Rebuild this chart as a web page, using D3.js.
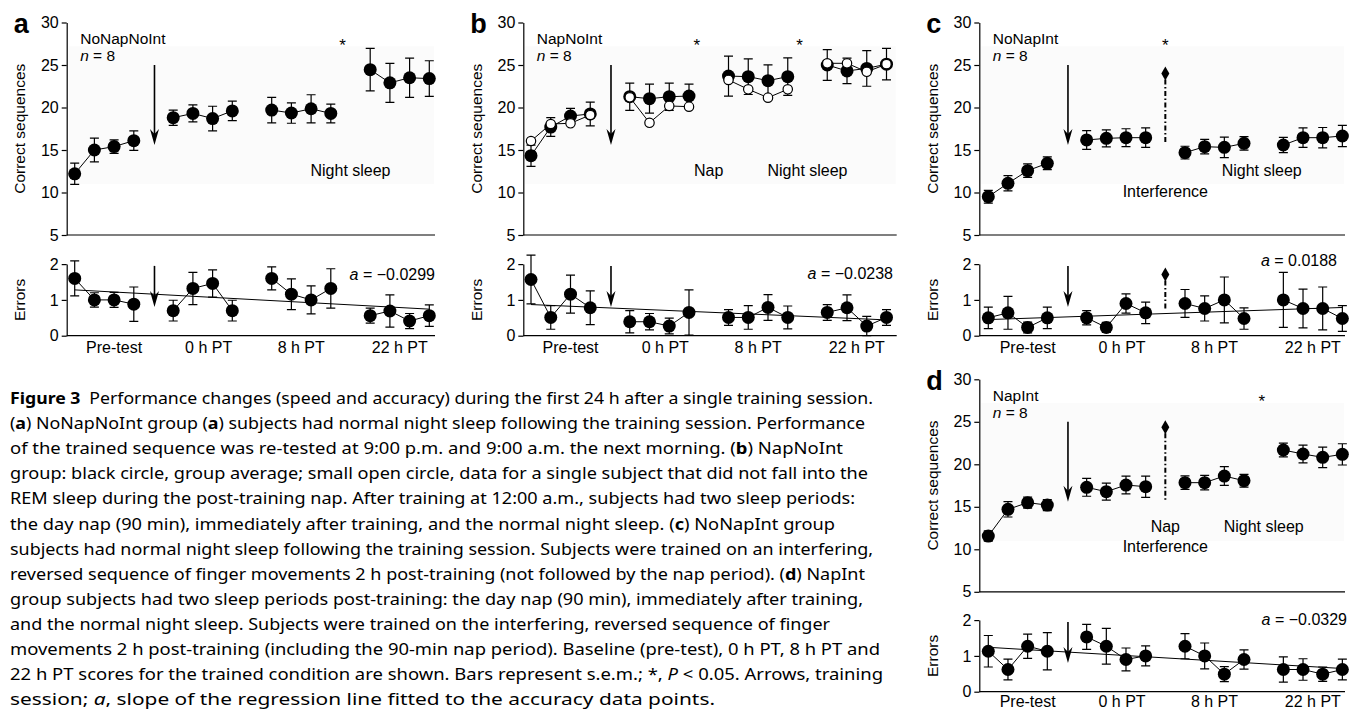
<!DOCTYPE html>
<html>
<head>
<meta charset="utf-8">
<script src="https://cdn.jsdelivr.net/npm/d3@7"></script>
<style>
  body { margin: 0; background: #fff; }
  svg { display: block; }
  text { font-family: "Liberation Sans", Arial, sans-serif; fill: #000; }
</style>
</head>
<body>
<script>
// positions of the 16 test blocks (gaps at 4, 9, 14)
const slots = [0, 1, 2, 3, 5, 6, 7, 8, 10, 11, 12, 13, 15, 16, 17, 18];
const sessions = ["Pre-test", "0 h PT", "8 h PT", "22 h PT"];
const seqTicks = [5, 10, 15, 20, 25, 30];
const errTicks = [0, 1, 2];

// a: NoNapNoInt
const seqA = [12.2, 15.0, 15.4, 16.1, 18.8, 19.3, 18.7, 19.6, 19.7, 19.35, 19.85, 19.3, 24.45, 22.9, 23.5, 23.4];
const seqSemA = [1.25, 1.4, 0.8, 1.15, 0.9, 1.0, 1.45, 1.15, 1.5, 1.2, 1.65, 1.1, 2.5, 2.3, 2.3, 2.1];
const errA = [1.6, 1.0, 1.0, 0.88, 0.7, 1.32, 1.46, 0.7, 1.6, 1.16, 1.0, 1.32, 0.56, 0.69, 0.41, 0.56];
const errSemA = [0.49, 0.2, 0.21, 0.48, 0.29, 0.45, 0.38, 0.29, 0.32, 0.43, 0.39, 0.55, 0.21, 0.45, 0.21, 0.3];
const fitA = [1.28, -0.0299];

// b: NapNoInt (filled = group, open = single subject)
const seqB = [14.33, 17.7, 19.0, 19.24, 21.27, 21.04, 21.27, 21.35, 23.7, 23.63, 23.16, 23.63, 25.0, 24.3, 24.6, 25.1];
const seqSemB = [1.25, 1.1, 0.9, 1.4, 1.6, 1.7, 1.6, 1.4, 2.35, 2.1, 1.85, 2.2, 1.8, 1.5, 2.1, 1.85];
const seqOpenB = [16.06, 18.06, 18.14, 19.12, 21.2, 18.2, 20.18, 20.1, 23.24, 22.14, 21.16, 22.14, 25.2, 25.2, 24.2, 25.1];
const errB = [1.57, 0.51, 1.16, 0.78, 0.39, 0.39, 0.27, 0.65, 0.51, 0.51, 0.79, 0.51, 0.65, 0.78, 0.27, 0.51];
const errSemB = [0.68, 0.33, 0.53, 0.47, 0.31, 0.23, 0.22, 0.63, 0.22, 0.33, 0.36, 0.32, 0.22, 0.36, 0.27, 0.22];
const fitB = [0.87, -0.0238];

// c: NoNapInt
const seqC = [9.51, 11.08, 12.57, 13.43, 16.18, 16.37, 16.45, 16.45, 14.69, 15.39, 15.31, 15.78, 15.59, 16.45, 16.45, 16.65];
const seqSemC = [0.75, 0.9, 0.8, 0.75, 1.1, 1.0, 1.05, 1.15, 0.75, 0.85, 1.2, 0.8, 0.9, 1.15, 1.2, 1.25];
const errC = [0.5, 0.64, 0.23, 0.5, 0.5, 0.23, 0.9, 0.64, 0.9, 0.76, 1.0, 0.48, 1.0, 0.76, 0.76, 0.48];
const errSemC = [0.3, 0.46, 0.15, 0.3, 0.2, 0.14, 0.27, 0.3, 0.39, 0.35, 0.64, 0.3, 0.77, 0.54, 0.6, 0.36];
const fitC = [0.45, 0.0188];
const intC = [24.0, 1.71];

// d: NapInt
const seqD = [11.56, 14.7, 15.49, 15.2, 17.29, 16.78, 17.56, 17.37, 17.84, 17.84, 18.62, 18.07, 21.68, 21.21, 20.82, 21.17];
const seqSemD = [0.6, 0.9, 0.65, 0.65, 1.05, 1.0, 1.05, 1.25, 0.8, 0.85, 1.1, 0.75, 0.8, 1.05, 1.2, 1.25];
const errD = [1.13, 0.62, 1.27, 1.13, 1.53, 1.27, 0.9, 1.0, 1.27, 1.0, 0.49, 0.9, 0.62, 0.62, 0.49, 0.62];
const errSemD = [0.44, 0.29, 0.34, 0.52, 0.35, 0.5, 0.32, 0.28, 0.35, 0.36, 0.21, 0.27, 0.35, 0.3, 0.2, 0.29];
const fitD = [1.24, -0.0329];
const intD = [24.35, null];

// training arrow (slot, top value, tip value) and interference marker slot
const arrowSeq = [4.05, 25, 15.6];
const arrowErr = [4.05, 1.95, 0.8];
const intSlot = 9;
const intEnd = [15.7, 0.76];

const notesA = [["Night sleep", 14, 12]];
const notesB = [["Nap", 9, 12], ["Night sleep", 14, 12]];
const notesC = [["Night sleep", 13.9, 12], ["Interference", 9, 9.5]];
const notesD = [["Nap", 9, 12], ["Interference", 9, 9.65], ["Night sleep", 14, 12]];
const starsA = [13.6], starsB = [8.4, 13.6], starsC = [9], starsD = [13.9];

const W = 1351, H = 709;
const svg = d3.select("body").append("svg").attr("width", W).attr("height", H);

const panels = [
  {letter: "a", group: "NoNapNoInt", seq: seqA, sem: seqSemA, err: errA, errSem: errSemA, fit: fitA, notes: notesA, stars: starsA,
   axisX: 66.7, x0: 74.7, dx: 19.7, xEnd: 435, top: 22.5, bot: 335.7, slopeDy: 15.5, slopeX: 435, labDy: 17.5},
  {letter: "b", group: "NapNoInt", seq: seqB, sem: seqSemB, open: seqOpenB, err: errB, errSem: errSemB, fit: fitB, notes: notesB, stars: starsB,
   axisX: 523.3, x0: 531, dx: 19.75, xEnd: 896.7, top: 22.5, bot: 335.7, slopeDy: 15, slopeX: 893, labDy: 17.5},
  {letter: "c", group: "NoNapInt", seq: seqC, sem: seqSemC, err: errC, errSem: errSemC, fit: fitC, notes: notesC, stars: starsC, inter: intC,
   axisX: 979.3, x0: 988.3, dx: 19.67, xEnd: 1345, top: 22.5, bot: 335.7, slopeDy: 2, slopeX: 1337, labDy: 17.5},
  {letter: "d", group: "NapInt", seq: seqD, sem: seqSemD, err: errD, errSem: errSemD, fit: fitD, notes: notesD, stars: starsD, inter: intD,
   axisX: 979.3, x0: 988.3, dx: 19.67, xEnd: 1345, top: 379.3, bot: 691.7, slopeDy: 5, slopeX: 1347, labDy: 15}
];

const blocks = d3.range(4).map(b => d3.range(4).map(k => b * 4 + k));

function arrow(g, xp, y1, y2) {
  g.append("line").attr("x1", xp).attr("x2", xp).attr("y1", y1).attr("y2", y2 - 8)
    .attr("stroke", "#000").attr("stroke-width", 1.6);
  g.append("path")
    .attr("d", `M${xp},${y2} L${xp - 4.5},${y2 - 16} L${xp},${y2 - 11} L${xp + 4.5},${y2 - 16} Z`)
    .attr("fill", "#000");
}

function interMark(g, xp, y1, y2) {
  g.append("line").attr("x1", xp).attr("x2", xp).attr("y1", y1 + 6).attr("y2", y2)
    .attr("stroke", "#000").attr("stroke-width", 2).attr("stroke-dasharray", "5,2.5,1.5,2.5");
  g.append("path").attr("d", `M${xp},${y1 - 7} L${xp + 4},${y1} L${xp},${y1 + 7} L${xp - 4},${y1} Z`).attr("fill", "#000");
}

function points(g, x, y, vals, sems, r) {
  blocks.forEach(b => {
    g.append("path")
      .attr("d", d3.line()(b.map(i => [x(slots[i]), y(vals[i])])))
      .attr("fill", "none").attr("stroke", "#000").attr("stroke-width", 1);
  });
  if (sems) {
    vals.forEach((v, i) => {
      const xp = x(slots[i]);
      const lo = y(v - sems[i]), hi = y(v + sems[i]);
      g.append("path")
        .attr("d", `M${xp},${lo}V${hi}M${xp - 4.5},${lo}H${xp + 4.5}M${xp - 4.5},${hi}H${xp + 4.5}`)
        .attr("fill", "none").attr("stroke", "#000").attr("stroke-width", 1.2);
    });
  }
  g.selectAll(null).data(vals).enter().append("circle")
    .attr("cx", (d, i) => x(slots[i])).attr("cy", d => y(d)).attr("r", r).attr("fill", "#000");
}

panels.forEach(p => {
  const g = svg.append("g");
  const x = d3.scaleLinear().domain([0, 18]).range([p.x0, p.x0 + 18 * p.dx]);
  const yS = d3.scaleLinear().domain([5, 30]).range([p.top + 212.5, p.top]);
  const yE = d3.scaleLinear().domain([0, 2]).range([p.bot, p.bot - 71.6]);

  // faint plot background
  g.append("rect").attr("x", p.axisX + 2).attr("y", yS(27.2)).attr("width", p.xEnd - p.axisX - 3)
    .attr("height", yS(11) - yS(27.2)).attr("fill", "#fbfbfb");

  // axes
  [[yS, seqTicks], [yE, errTicks]].forEach(([sc, tv]) => {
    const ax = g.append("g").attr("transform", `translate(${p.axisX},0)`)
      .call(d3.axisLeft(sc).tickValues(tv).tickFormat(d3.format("d")).tickSize(5).tickSizeOuter(0).tickPadding(3));
    ax.attr("font-family", null).attr("font-size", null);
    ax.selectAll("text").style("font-size", "16px");
    ax.selectAll("path,line").attr("stroke", "#000").attr("stroke-width", 1.2);
    g.append("line").attr("x1", p.axisX).attr("x2", p.xEnd).attr("y1", sc(tv[0])).attr("y2", sc(tv[0]))
      .attr("stroke", "#000").attr("stroke-width", 1.2);
  });

  g.append("text").attr("transform", `translate(${p.axisX - 47},${(yS(5) + yS(30)) / 2}) rotate(-90)`)
    .attr("text-anchor", "middle").attr("dominant-baseline", "central").style("font-size", "15.5px").text("Correct sequences");
  g.append("text").attr("transform", `translate(${p.axisX - 47},${(yE(0) + yE(2)) / 2}) rotate(-90)`)
    .attr("text-anchor", "middle").attr("dominant-baseline", "central").style("font-size", "15.5px").text("Errors");

  g.append("text").attr("x", p.axisX - 53).attr("y", yS(30) + 10.5)
    .style("font-size", "27px").style("font-weight", "bold").text(p.letter);

  g.append("text").attr("x", p.axisX + 13.5).attr("y", yS(30) + 21.5).style("font-size", "15.5px").text(p.group);
  const nt = g.append("text").attr("x", p.axisX + 13.5).attr("y", yS(30) + 38.5).style("font-size", "15.5px");
  nt.append("tspan").style("font-style", "italic").text("n");
  nt.append("tspan").text(" = 8");

  sessions.forEach((s, i) => {
    g.append("text").attr("x", x(slots[i * 4] + [2, 1.8, 1.5, 1.5][i])).attr("y", yE(0) + p.labDy)
      .attr("text-anchor", "middle").style("font-size", "16px").text(s);
  });

  p.notes.forEach(([t, s, v]) => {
    g.append("text").attr("x", x(s)).attr("y", yS(v)).attr("text-anchor", "middle").style("font-size", "16px").text(t);
  });
  p.stars.forEach(s => {
    g.append("text").attr("x", x(s)).attr("y", yS(30) + 28).attr("text-anchor", "middle").style("font-size", "17px").text("*");
  });

  // regression line
  g.append("line").attr("x1", x(0)).attr("x2", x(18))
    .attr("y1", yE(p.fit[0])).attr("y2", yE(p.fit[0] + p.fit[1] * 18))
    .attr("stroke", "#000").attr("stroke-width", 1);
  const sl = g.append("text").attr("x", p.slopeX).attr("y", yE(2) + p.slopeDy).attr("text-anchor", "end").style("font-size", "16px");
  sl.append("tspan").style("font-style", "italic").text("a");
  sl.append("tspan").text(" = " + (p.fit[1] < 0 ? "\u2212" : "") + Math.abs(p.fit[1]).toFixed(4));

  arrow(g, x(arrowSeq[0]), yS(arrowSeq[1]), yS(arrowSeq[2]));
  arrow(g, x(arrowErr[0]), yE(arrowErr[1]), yE(arrowErr[2]));
  if (p.inter) {
    interMark(g, x(intSlot), yS(p.inter[0]), yS(intEnd[0]));
    if (p.inter[1] != null) interMark(g, x(intSlot), yE(p.inter[1]), yE(intEnd[1]));
  }

  points(g, x, yS, p.seq, p.sem, 6.5);
  points(g, x, yE, p.err, p.errSem, 6.5);
  if (p.open) {
    blocks.forEach(b => {
      g.append("path").attr("d", d3.line()(b.map(i => [x(slots[i]), yS(p.open[i])])))
        .attr("fill", "none").attr("stroke", "#000").attr("stroke-width", 1);
    });
    g.selectAll(null).data(p.open).enter().append("circle")
      .attr("cx", (d, i) => x(slots[i])).attr("cy", d => yS(d)).attr("r", 4.7)
      .attr("fill", "#fff").attr("stroke", "#000").attr("stroke-width", 1.2);
  }
});

// caption
const B = "b", I = "i";
const captionLines = [
  [["Figure 3", B], ["\u2002Performance changes (speed and accuracy) during the first 24 h after a single training session."]],
  [["("], ["a", B], [") NoNapNoInt group ("], ["a", B], [") subjects had normal night sleep following the training session. Performance"]],
  [["of the trained sequence was re-tested at 9:00 p.m. and 9:00 a.m. the next morning. ("], ["b", B], [") NapNoInt"]],
  [["group: black circle, group average; small open circle, data for a single subject that did not fall into the"]],
  [["REM sleep during the post-training nap. After training at 12:00 a.m., subjects had two sleep periods:"]],
  [["the day nap (90 min), immediately after training, and the normal night sleep. ("], ["c", B], [") NoNapInt group"]],
  [["subjects had normal night sleep following the training session. Subjects were trained on an interfering,"]],
  [["reversed sequence of finger movements 2 h post-training (not followed by the nap period). ("], ["d", B], [") NapInt"]],
  [["group subjects had two sleep periods post-training: the day nap (90 min), immediately after training,"]],
  [["and the normal night sleep. Subjects were trained on the interfering, reversed sequence of finger"]],
  [["movements 2 h post-training (including the 90-min nap period). Baseline (pre-test), 0 h PT, 8 h PT and"]],
  [["22 h PT scores for the trained condition are shown. Bars represent s.e.m.; *, "], ["P", I], [" < 0.05. Arrows, training"]],
  [["session; "], ["a", I], [", slope of the regression line fitted to the accuracy data points."]]
];
const captionEnds = [873, 865, 843, 868, 855, 835, 873, 865, 863, 830, 880, 883, 715];

captionLines.forEach((segs, i) => {
  const t = svg.append("text").attr("x", 10).attr("y", 404 + 25.1 * i)
    .style("font-family", "'Noto Sans', 'Open Sans', sans-serif").style("font-size", "16.5px")
    .attr("textLength", captionEnds[i] - 10).attr("lengthAdjust", "spacingAndGlyphs");
  segs.forEach(([s, f]) => {
    const ts = t.append("tspan").text(s);
    if (f === B) ts.style("font-weight", "bold");
    if (f === I) ts.style("font-style", "italic");
  });
});
</script>
</body>
</html>
